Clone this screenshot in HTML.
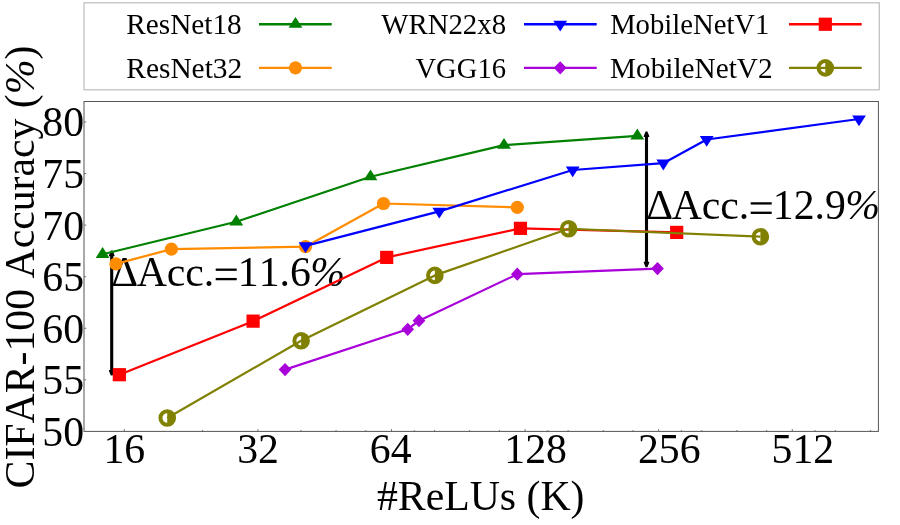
<!DOCTYPE html>
<html><head><meta charset="utf-8"><title>chart</title>
<style>
html,body{margin:0;padding:0;background:#fff;}
body{width:900px;height:525px;overflow:hidden;}
svg{display:block;will-change:transform;opacity:0.9999;}
text{font-family:"Liberation Serif",serif;fill:#000;font-kerning:none;font-variant-ligatures:none;}
</style></head><body>
<svg width="900" height="525" viewBox="0 0 900 525">
<rect x="0" y="0" width="900" height="525" fill="#ffffff"/>

<line x1="111.7" y1="252.6" x2="111.7" y2="373.5" stroke="#000" stroke-width="3.1"/><polygon points="110.8,250.6 112.60000000000001,250.6 114.4,255.2 114.4,256.2 109.0,256.2 109.0,255.2" fill="#000"/><polygon points="110.8,375.5 112.60000000000001,375.5 114.4,370.9 114.4,369.9 109.0,369.9 109.0,370.9" fill="#000"/>
<line x1="646.5" y1="133.5" x2="646.5" y2="265.3" stroke="#000" stroke-width="3.1"/><polygon points="645.6,131.5 647.4,131.5 649.2,136.1 649.2,137.1 643.8,137.1 643.8,136.1" fill="#000"/><polygon points="645.6,267.3 647.4,267.3 649.2,262.7 649.2,261.7 643.8,261.7 643.8,262.7" fill="#000"/>
<text y="285.6" font-size="41.75"><tspan x="111.30">Δ</tspan><tspan x="136.65">Acc.</tspan><tspan x="237.85">11.6</tspan><tspan x="310.21" font-style="italic">%</tspan></text><rect x="215.70" y="268.55" width="21.0" height="2.3" fill="#000"/><rect x="215.70" y="277.95" width="21.0" height="2.3" fill="#000"/>
<text y="219.3" font-size="41.75"><tspan x="646.30">Δ</tspan><tspan x="671.65">Acc.</tspan><tspan x="772.85">12.9</tspan><tspan x="845.21" font-style="italic">%</tspan></text><rect x="750.70" y="202.25" width="21.0" height="2.3" fill="#000"/><rect x="750.70" y="211.65" width="21.0" height="2.3" fill="#000"/>
<polyline points="102.60,254.30 236.30,221.80 370.50,176.70 504.00,145.10 637.30,135.80" fill="none" stroke="#008000" stroke-width="2.2" stroke-linejoin="round"/>
<polygon points="102.60,247.10 95.70,257.90 109.50,257.90" fill="#008000"/>
<polygon points="236.30,214.60 229.40,225.40 243.20,225.40" fill="#008000"/>
<polygon points="370.50,169.50 363.60,180.30 377.40,180.30" fill="#008000"/>
<polygon points="504.00,137.90 497.10,148.70 510.90,148.70" fill="#008000"/>
<polygon points="637.30,128.60 630.40,139.40 644.20,139.40" fill="#008000"/>
<polyline points="115.90,263.90 171.40,249.10 305.50,246.70 383.50,203.50 517.30,207.30" fill="none" stroke="#ff8c00" stroke-width="2.2" stroke-linejoin="round"/>
<circle cx="115.90" cy="263.90" r="6.60" fill="#ff8c00"/>
<circle cx="171.40" cy="249.10" r="6.60" fill="#ff8c00"/>
<circle cx="305.50" cy="246.70" r="6.60" fill="#ff8c00"/>
<circle cx="383.50" cy="203.50" r="6.60" fill="#ff8c00"/>
<circle cx="517.30" cy="207.30" r="6.60" fill="#ff8c00"/>
<polyline points="305.50,245.90 439.30,211.40 572.70,170.00 663.30,163.20 706.70,139.50 859.00,119.00" fill="none" stroke="#0000ff" stroke-width="2.2" stroke-linejoin="round"/>
<polygon points="305.50,253.10 298.60,242.30 312.40,242.30" fill="#0000ff"/>
<polygon points="439.30,218.60 432.40,207.80 446.20,207.80" fill="#0000ff"/>
<polygon points="572.70,177.20 565.80,166.40 579.60,166.40" fill="#0000ff"/>
<polygon points="663.30,170.40 656.40,159.60 670.20,159.60" fill="#0000ff"/>
<polygon points="706.70,146.70 699.80,135.90 713.60,135.90" fill="#0000ff"/>
<polygon points="859.00,126.20 852.10,115.40 865.90,115.40" fill="#0000ff"/>
<polyline points="285.05,369.60 407.70,329.30 419.00,320.70 517.30,274.20 657.50,268.60" fill="none" stroke="#a800d9" stroke-width="2.2" stroke-linejoin="round"/>
<polygon points="285.05,362.95 291.40,369.60 285.05,376.25 278.70,369.60" fill="#a800d9"/>
<polygon points="407.70,322.65 414.05,329.30 407.70,335.95 401.35,329.30" fill="#a800d9"/>
<polygon points="419.00,314.05 425.35,320.70 419.00,327.35 412.65,320.70" fill="#a800d9"/>
<polygon points="517.30,267.55 523.65,274.20 517.30,280.85 510.95,274.20" fill="#a800d9"/>
<polygon points="657.50,261.95 663.85,268.60 657.50,275.25 651.15,268.60" fill="#a800d9"/>
<polyline points="119.35,374.70 253.10,321.15 386.70,257.40 520.45,228.35 676.70,232.40" fill="none" stroke="#ff0000" stroke-width="2.2" stroke-linejoin="round"/>
<rect x="112.75" y="368.10" width="13.20" height="13.20" fill="#ff0000"/>
<rect x="246.50" y="314.55" width="13.20" height="13.20" fill="#ff0000"/>
<rect x="380.10" y="250.80" width="13.20" height="13.20" fill="#ff0000"/>
<rect x="513.85" y="221.75" width="13.20" height="13.20" fill="#ff0000"/>
<rect x="670.10" y="225.80" width="13.20" height="13.20" fill="#ff0000"/>
<polyline points="167.25,418.00 301.15,340.70 434.85,275.40 568.65,228.75 760.40,236.70" fill="none" stroke="#808000" stroke-width="2.2" stroke-linejoin="round"/>
<circle cx="167.25" cy="418.00" r="6.80" fill="none" stroke="#808000" stroke-width="4.00"/><path d="M167.25,412.40 A5.60,5.60 0 0 1 167.25,423.60 Z" fill="#808000"/>
<circle cx="301.15" cy="340.70" r="6.80" fill="none" stroke="#808000" stroke-width="4.00"/><path d="M301.15,335.10 A5.60,5.60 0 0 1 301.15,346.30 Z" fill="#808000"/>
<circle cx="434.85" cy="275.40" r="6.80" fill="none" stroke="#808000" stroke-width="4.00"/><path d="M434.85,269.80 A5.60,5.60 0 0 1 434.85,281.00 Z" fill="#808000"/>
<circle cx="568.65" cy="228.75" r="6.80" fill="none" stroke="#808000" stroke-width="4.00"/><path d="M568.65,223.15 A5.60,5.60 0 0 1 568.65,234.35 Z" fill="#808000"/>
<circle cx="760.40" cy="236.70" r="6.80" fill="none" stroke="#808000" stroke-width="4.00"/><path d="M760.40,231.10 A5.60,5.60 0 0 1 760.40,242.30 Z" fill="#808000"/>
<rect x="84.0" y="101.5" width="794.4" height="329.9" fill="none" stroke="#555" stroke-width="1"/>
<path d="M124.30,431.4 v-2.3 M257.90,431.4 v-2.3 M391.50,431.4 v-2.3 M525.10,431.4 v-2.3 M658.70,431.4 v-2.3 M792.30,431.4 v-2.3 M202.45,431.4 v-1.4 M300.91,431.4 v-1.4 M336.05,431.4 v-1.4 M365.76,431.4 v-1.4 M414.20,431.4 v-1.4 M434.51,431.4 v-1.4 M469.65,431.4 v-1.4 M499.36,431.4 v-1.4 M547.80,431.4 v-1.4 M568.11,431.4 v-1.4 M603.25,431.4 v-1.4 M632.96,431.4 v-1.4 M681.40,431.4 v-1.4 M701.71,431.4 v-1.4 M736.85,431.4 v-1.4 M766.56,431.4 v-1.4 M815.00,431.4 v-1.4 M835.31,431.4 v-1.4 M870.45,431.4 v-1.4 M84.0,379.84 h2.3 M84.0,328.27 h2.3 M84.0,276.71 h2.3 M84.0,225.15 h2.3 M84.0,173.59 h2.3 M84.0,122.02 h2.3" stroke="#555" stroke-width="0.8" fill="none"/>
<text x="84.0" y="445.80" font-size="41.75" text-anchor="end">50</text>
<text x="84.0" y="394.24" font-size="41.75" text-anchor="end">55</text>
<text x="84.0" y="342.67" font-size="41.75" text-anchor="end">60</text>
<text x="84.0" y="291.11" font-size="41.75" text-anchor="end">65</text>
<text x="84.0" y="239.55" font-size="41.75" text-anchor="end">70</text>
<text x="84.0" y="187.99" font-size="41.75" text-anchor="end">75</text>
<text x="84.0" y="135.92" font-size="41.75" text-anchor="end">80</text>
<text x="124.3" y="463.3" font-size="41.75" text-anchor="middle">16</text>
<text x="258.0" y="463.3" font-size="41.75" text-anchor="middle">32</text>
<text x="390.7" y="463.3" font-size="41.75" text-anchor="middle">64</text>
<text x="535.6" y="463.3" font-size="41.75" text-anchor="middle">128</text>
<text x="669.2" y="463.3" font-size="41.75" text-anchor="middle">256</text>
<text x="802.9" y="463.3" font-size="41.75" text-anchor="middle">512</text>
<text x="480.7" y="509.8" font-size="41.75" text-anchor="middle">#ReLUs (K)</text>
<text transform="translate(34.4,267.0) rotate(-90)" font-size="41.75" text-anchor="middle">CIFAR-100 Accuracy (<tspan font-style="italic">%</tspan>)</text>
<rect x="84" y="2.8" width="795.3" height="87" fill="#fff" stroke="#c0c0c0" stroke-width="1.25"/>
<text x="126.32" y="34.2" font-size="29.25">ResNet18</text>
<line x1="259.0" y1="24.25" x2="331.7" y2="24.25" stroke="#008000" stroke-width="2.4"/>
<polygon points="295.50,17.05 288.60,27.85 302.40,27.85" fill="#008000"/>
<text x="126.32" y="78.2" font-size="29.4">ResNet32</text>
<line x1="259.0" y1="67.85" x2="331.7" y2="67.85" stroke="#ff8c00" stroke-width="2.4"/>
<circle cx="295.50" cy="67.85" r="6.60" fill="#ff8c00"/>
<text x="381.2" y="34.2" font-size="28.83">WRN22x8</text>
<line x1="524.0" y1="24.25" x2="596.7" y2="24.25" stroke="#0000ff" stroke-width="2.4"/>
<polygon points="560.20,31.45 553.30,20.65 567.10,20.65" fill="#0000ff"/>
<text x="415.41" y="78.2" font-size="28.63">VGG16</text>
<line x1="524.0" y1="67.85" x2="596.7" y2="67.85" stroke="#a800d9" stroke-width="2.4"/>
<polygon points="560.20,61.20 566.55,67.85 560.20,74.50 553.85,67.85" fill="#a800d9"/>
<text x="610.14" y="34.2" font-size="28.68">MobileNetV1</text>
<line x1="789.0" y1="24.25" x2="861.7" y2="24.25" stroke="#ff0000" stroke-width="2.4"/>
<rect x="818.70" y="17.65" width="13.20" height="13.20" fill="#ff0000"/>
<text x="610.12" y="78.2" font-size="29.25">MobileNetV2</text>
<line x1="789.0" y1="67.85" x2="861.7" y2="67.85" stroke="#808000" stroke-width="2.4"/>
<circle cx="825.30" cy="67.85" r="6.80" fill="none" stroke="#808000" stroke-width="4.00"/><path d="M825.30,62.25 A5.60,5.60 0 0 1 825.30,73.45 Z" fill="#808000"/>
</svg></body></html>
